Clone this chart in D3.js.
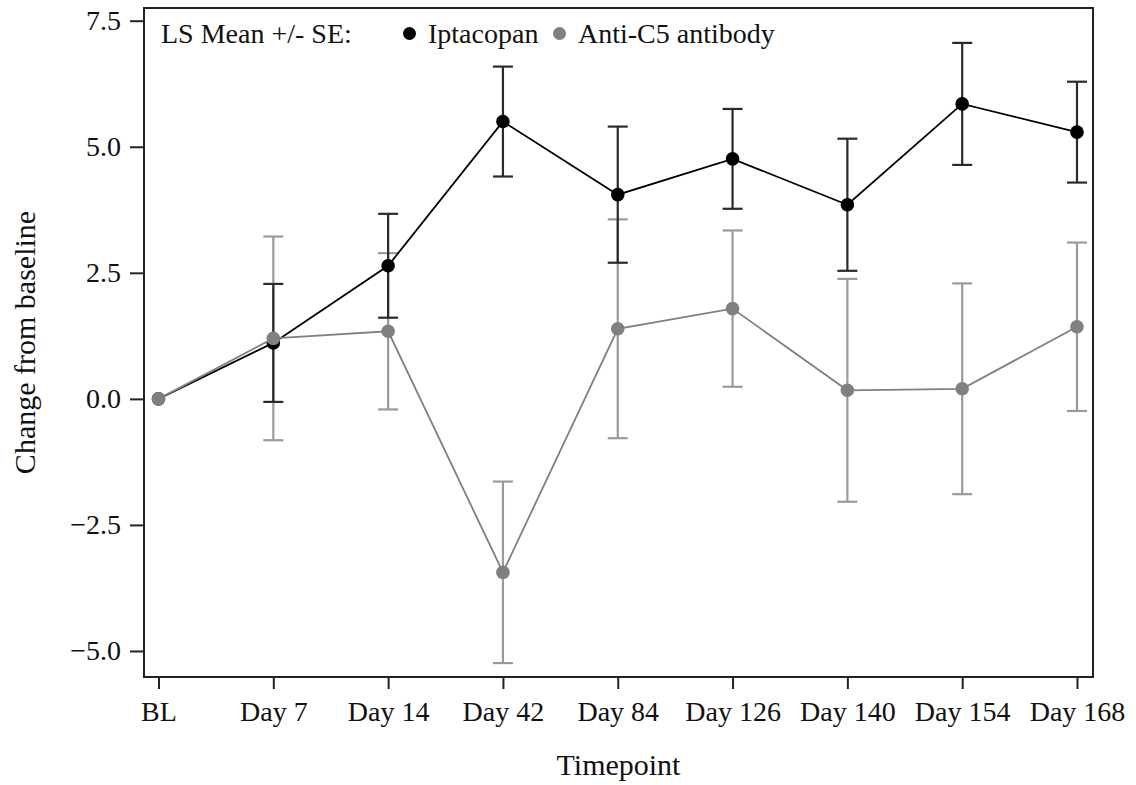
<!DOCTYPE html>
<html>
<head>
<meta charset="utf-8">
<script src="https://cdn.jsdelivr.net/npm/d3@7"></script>
<style>
  body { margin: 0; background: #fff; }
  text { font-family: "Liberation Serif", "Times New Roman", serif; fill: #111; }
</style>
</head>
<body>
<svg width="1136" height="785"></svg>
<script>
var timepoints = ["BL", "Day 7", "Day 14", "Day 42", "Day 84", "Day 126", "Day 140", "Day 154", "Day 168"];
var iptacopanMean = [0, 1.11, 2.64, 5.50, 4.05, 4.76, 3.85, 5.85, 5.29];
var iptacopanSE   = [0, 1.17, 1.03, 1.09, 1.35, 0.99, 1.31, 1.21, 1.00];
var antiC5Mean    = [0, 1.20, 1.34, -3.44, 1.39, 1.79, 0.17, 0.20, 1.43];
var antiC5SE      = [0, 2.02, 1.55, 1.80, 2.17, 1.55, 2.21, 2.09, 1.67];
var yTicks = [-5.0, -2.5, 0.0, 2.5, 5.0, 7.5];

var svg = d3.select("svg"),
    margin = {top: 8, right: 43, bottom: 108, left: 144},
    width = 1136 - margin.left - margin.right,
    height = 785 - margin.top - margin.bottom;

var g = svg.append("g")
           .attr("transform", "translate(" + margin.left + "," + margin.top + ")");

var xScale = d3.scalePoint().domain(timepoints).range([14.5, width - 16]),
    yScale = d3.scaleLinear().domain([-5.516, 7.752]).range([height, 0]);

// x axis
var xAxis = g.append("g")
 .attr("transform", "translate(0," + height + ")")
 .call(d3.axisBottom(xScale).tickSize(12).tickPadding(12));
xAxis.select(".domain").remove();
xAxis.selectAll("text").attr("font-size", "28px").attr("font-family", "Liberation Serif").attr("fill", "#111");
xAxis.selectAll("line").attr("stroke", "#222").attr("stroke-width", 2);

// y axis
var yAxis = g.append("g")
 .call(d3.axisLeft(yScale).tickValues(yTicks).tickFormat(d3.format(".1f")).tickSize(14).tickPadding(9));
yAxis.select(".domain").remove();
yAxis.selectAll("text").attr("font-size", "28px").attr("font-family", "Liberation Serif").attr("fill", "#111");
yAxis.selectAll("line").attr("stroke", "#222").attr("stroke-width", 2);

// frame
g.append("rect")
 .attr("x", 0).attr("y", 0)
 .attr("width", width).attr("height", height)
 .attr("fill", "none")
 .attr("stroke", "#222")
 .attr("stroke-width", 2);

// axis titles
svg.append("text")
   .attr("transform", "translate(35," + (margin.top + height / 2) + ") rotate(-90)")
   .attr("text-anchor", "middle")
   .attr("font-size", "30px")
   .text("Change from baseline");

svg.append("text")
   .attr("x", margin.left + width / 2)
   .attr("y", 775)
   .attr("text-anchor", "middle")
   .attr("font-size", "30px")
   .text("Timepoint");

function rows(means, ses) {
  return timepoints.map(function(t, i) { return {t: t, m: means[i], se: ses[i]}; });
}

var series = [
  {name: "Iptacopan", data: rows(iptacopanMean, iptacopanSE), color: "#000", bar: "#2a2a2a", width: 1.8},
  {name: "Anti-C5 antibody", data: rows(antiC5Mean, antiC5SE), color: "#808080", bar: "#9a9a9a", width: 1.8}
];

var line = d3.line()
  .x(function(d) { return xScale(d.t); })
  .y(function(d) { return yScale(d.m); });

var cap = 10;

// error bars: grey first, black on top
[series[1], series[0]].forEach(function(s) {
  var eb = g.append("g").attr("stroke", s.bar).attr("stroke-width", 2.2);
  var d = s.data.filter(function(d) { return d.se > 0; });
  eb.selectAll(".v").data(d).enter().append("line")
    .attr("x1", function(d) { return xScale(d.t); })
    .attr("x2", function(d) { return xScale(d.t); })
    .attr("y1", function(d) { return yScale(d.m - d.se); })
    .attr("y2", function(d) { return yScale(d.m + d.se); });
  eb.selectAll(".hi").data(d).enter().append("line")
    .attr("x1", function(d) { return xScale(d.t) - cap; })
    .attr("x2", function(d) { return xScale(d.t) + cap; })
    .attr("y1", function(d) { return yScale(d.m + d.se); })
    .attr("y2", function(d) { return yScale(d.m + d.se); });
  eb.selectAll(".lo").data(d).enter().append("line")
    .attr("x1", function(d) { return xScale(d.t) - cap; })
    .attr("x2", function(d) { return xScale(d.t) + cap; })
    .attr("y1", function(d) { return yScale(d.m - d.se); })
    .attr("y2", function(d) { return yScale(d.m - d.se); });
});

series.forEach(function(s) {
  g.append("path")
   .datum(s.data)
   .attr("fill", "none")
   .attr("stroke", s.color)
   .attr("stroke-width", s.width)
   .attr("d", line);
  g.selectAll(null)
   .data(s.data)
   .enter().append("circle")
   .attr("cx", function(d) { return xScale(d.t); })
   .attr("cy", function(d) { return yScale(d.m); })
   .attr("r", 6.8)
   .attr("fill", s.color);
});

// legend
var lg = svg.append("g");
lg.append("text").attr("x", 161).attr("y", 43).attr("font-size", "28px").text("LS Mean +/- SE:");
lg.append("circle").attr("cx", 409.5).attr("cy", 33.5).attr("r", 6.5).attr("fill", "#000");
lg.append("text").attr("x", 428).attr("y", 43).attr("font-size", "28px").text("Iptacopan");
lg.append("circle").attr("cx", 559.5).attr("cy", 33.5).attr("r", 6.5).attr("fill", "#808080");
lg.append("text").attr("x", 578).attr("y", 43).attr("font-size", "28px").text("Anti-C5 antibody");
</script>
</body>
</html>
